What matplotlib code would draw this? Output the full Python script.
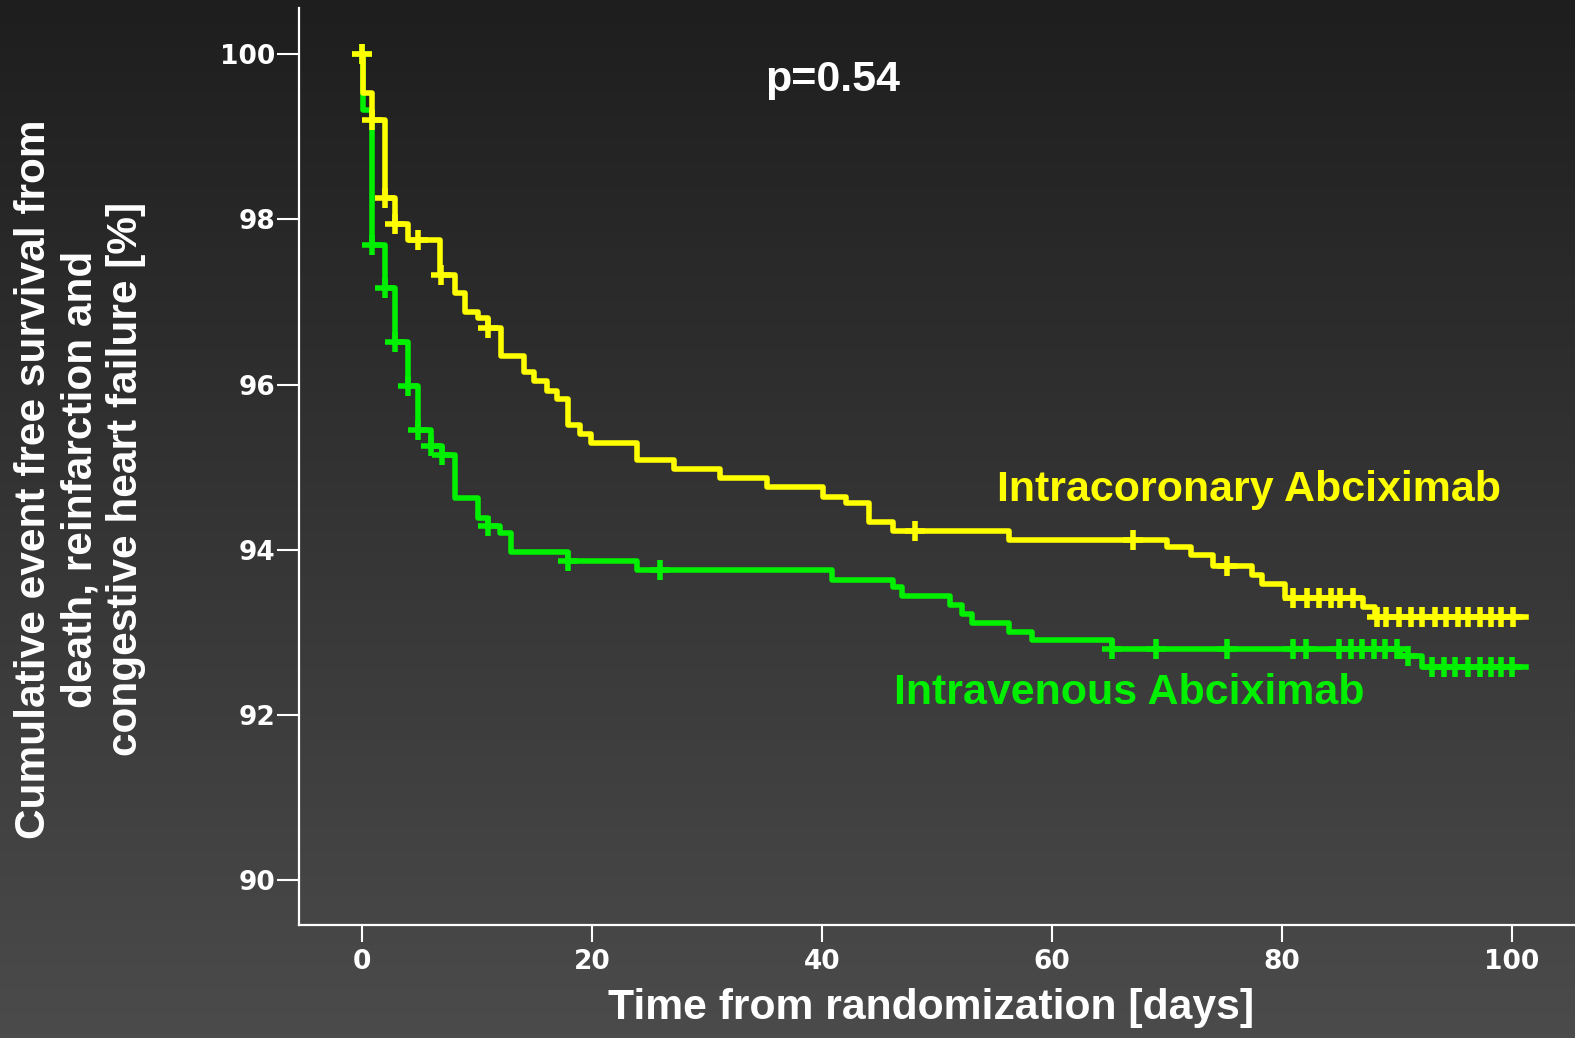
import matplotlib.pyplot as plt
import numpy as np

# Kaplan-Meier step data (day, survival % after the step)
ic_days = [0, 0.05, 0.84, 2.0, 2.87, 4.03, 6.78, 8.09, 8.96, 10.1, 10.98, 12.06,
           14.1, 15.0, 16.1, 17.0, 17.9, 19.0, 19.9, 23.9, 27.1, 31.1, 35.2,
           40.1, 42.1, 44.1, 46.2, 56.3, 70.0, 72.1, 74.0, 77.4, 78.3, 80.3,
           87.1, 88.1, 101.2]
ic_surv = [100, 99.53, 99.2, 98.26, 97.95, 97.75, 97.33, 97.11, 96.88, 96.8, 96.68, 96.35,
           96.15, 96.04, 95.92, 95.82, 95.51, 95.40, 95.29, 95.09, 94.98, 94.87, 94.76,
           94.64, 94.56, 94.34, 94.23, 94.12, 94.03, 93.93, 93.80, 93.69, 93.59, 93.41,
           93.30, 93.19, 93.19]
ic_censor = [0, 0.84, 2.0, 2.87, 4.9, 6.9, 11.0, 48.1, 67.1, 75.2, 81.0, 82.2, 83.2,
             84.3, 85.1, 86.2, 88.3, 89.1, 90.2, 91.2, 92.2, 93.3, 94.3, 95.3, 96.2,
             97.2, 98.2, 99.1, 100.1]

iv_days = [0, 0.05, 0.84, 2.0, 2.87, 4.03, 4.9, 6.0, 6.93, 8.09, 10.1, 11.0, 12.0,
           13.0, 17.9, 23.9, 40.9, 46.2, 47.0, 51.1, 52.2, 53.1, 56.3, 58.3, 65.2,
           90.3, 92.2, 101.2]
iv_surv = [100, 99.33, 97.69, 97.17, 96.52, 95.98, 95.45, 95.26, 95.15, 94.62, 94.38, 94.29, 94.20,
           93.97, 93.86, 93.75, 93.63, 93.55, 93.44, 93.33, 93.22, 93.11, 93.00, 92.91, 92.80,
           92.71, 92.58, 92.58]
iv_censor = [0, 0.84, 2.0, 2.87, 4.03, 4.9, 6.0, 6.93, 11.0, 17.9, 25.9, 65.2, 69.1,
             75.2, 81.0, 82.1, 85.0, 86.0, 87.0, 88.0, 89.0, 90.0, 91.0, 93.1, 94.1,
             95.1, 96.2, 97.2, 98.2, 99.1, 100.0]

x_ticks = [0, 20, 40, 60, 80, 100]
y_ticks = [90, 92, 94, 96, 98, 100]

YELLOW = '#ffff00'
GREEN = '#00f000'
BOLD_FONT = ['Liberation Sans', 'DejaVu Sans']


def step_value(days, surv, t):
    # survival level at time t for a post-step curve
    idx = np.searchsorted(days, t, side='right') - 1
    return np.asarray(surv)[idx]


fig = plt.figure(figsize=(15.75, 10.38), dpi=100)

# dark vertical gradient background
bg = fig.add_axes([0, 0, 1, 1], zorder=0)
grad = np.linspace(0, 1, 256).reshape(-1, 1)
top = np.array([0x1e, 0x1e, 0x1e]) / 255
bottom = np.array([0x4b, 0x4b, 0x4b]) / 255
img = top + grad[..., None] * (bottom - top)
bg.imshow(img, aspect='auto', extent=[0, 1, 0, 1])
bg.axis('off')

ax = fig.add_axes([0.1898, 0.1089, 0.8102, 0.8834], zorder=1)
ax.patch.set_alpha(0)

for days, surv, cens, col in [(iv_days, iv_surv, iv_censor, GREEN),
                              (ic_days, ic_surv, ic_censor, YELLOW)]:
    ax.step(days, surv, where='post', color=col, lw=4, solid_joinstyle='round')
    ax.plot(cens, step_value(days, surv, cens), ls='none', marker='+',
            ms=14, mew=4, color=col)

ax.set_xlim(-5.48, 105.5)
ax.set_ylim(89.455, 100.56)
ax.set_xticks(x_ticks)
ax.set_yticks(y_ticks)

for side in ['top', 'right']:
    ax.spines[side].set_visible(False)
for side in ['left', 'bottom']:
    ax.spines[side].set_color('white')
    ax.spines[side].set_linewidth(1.6)

ax.tick_params(axis='y', direction='out', length=16, width=1.5, color='white',
               labelcolor='white', pad=1)
ax.tick_params(axis='x', direction='out', length=12, width=1.5, color='white',
               labelcolor='white', pad=5)
for lab in ax.get_xticklabels() + ax.get_yticklabels():
    lab.set_fontfamily('DejaVu Sans')
    lab.set_fontweight('bold')
    lab.set_fontsize(19)

ax.text(40.96, 99.69, 'p=0.54', color='white', fontsize=31, fontweight='bold',
        family=BOLD_FONT, ha='center', va='center')
ax.text(55.2, 94.72, 'Intracoronary Abciximab', color=YELLOW, fontsize=31,
        fontweight='bold', family=BOLD_FONT, ha='left', va='center')
ax.text(46.3, 92.27, 'Intravenous Abciximab', color=GREEN, fontsize=31,
        fontweight='bold', family=BOLD_FONT, ha='left', va='center')

fig.text(0.591, 0.0289, 'Time from randomization [days]', color='white',
         fontsize=30.7, fontweight='bold', family=BOLD_FONT, ha='center', va='center')
fig.text(0.0508, 0.5385,
         'Cumulative event free survival from\ndeath, reinfarction and\ncongestive heart failure [%]',
         color='white', fontsize=30.5, fontweight='bold', family=BOLD_FONT,
         rotation=90, ha='center', va='center', multialignment='center',
         linespacing=1.2)

fig.savefig('out.png', dpi=100)
